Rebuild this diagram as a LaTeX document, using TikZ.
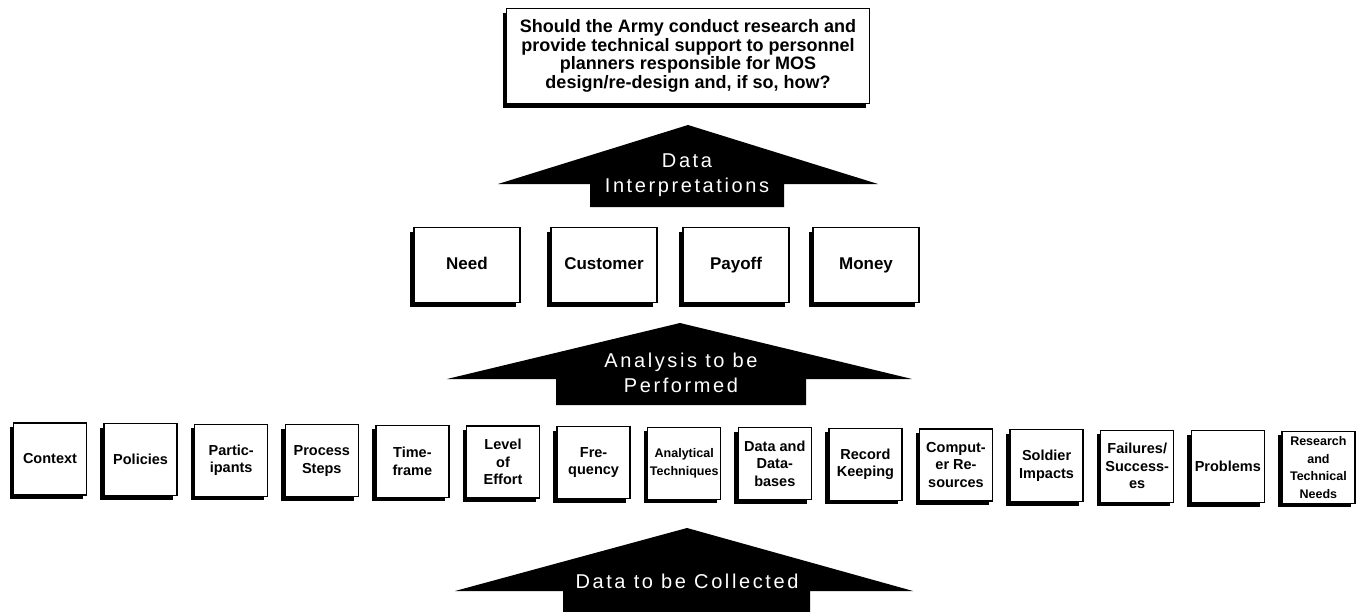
\documentclass[tikz,border=0pt]{standalone}
\usepackage{fontspec}
\setmainfont{Liberation Sans}
\usetikzlibrary{shadows}
\tikzstyle{box}=[draw,line width=1.3pt,fill=white,align=center,inner sep=1pt,
  drop shadow={shadow xshift=-4pt,shadow yshift=-4pt,opacity=1,fill=black}]
\tikzstyle{question box}=[box,minimum width=363pt,minimum height=95pt,
  font=\fontsize{18}{18.5}\selectfont\bfseries]
\tikzstyle{result box}=[box,minimum width=106pt,minimum height=75pt,
  text height=12.5pt,text depth=3.5pt,
  font=\fontsize{17}{19}\selectfont\bfseries]
\tikzstyle{item box}=[box,minimum width=73pt,minimum height=72pt,
  font=\fontsize{14.5}{17.5}\selectfont\bfseries]
\tikzstyle{big arrow}=[fill=black]
\tikzstyle{arrow text}=[text=white,align=center,
  font=\fontsize{20}{25}\selectfont\addfontfeature{LetterSpace=13}]
\newcommand{\smallitem}{\fontsize{12.5}{14.5}\selectfont}

\begin{document}
\begin{tikzpicture}[x=1pt,y=-1pt]
    \useasboundingbox (0,0) rectangle (1358,611);

    % The question on top
    \node[question box] (question) at (688,56)
        {Should the Army conduct research and\\provide technical support to personnel\\planners responsible for MOS\\design/re-design and, if so, how?};

    % Big arrows, drawn as filled outlines
    \fill[big arrow] (688,125) -- (878,184) -- (784,184) -- (784,207)
        -- (590,207) -- (590,184) -- (498,184) -- cycle;
    \node[arrow text] (interp) at (687,175) {Data\\Interpretations};

    \fill[big arrow] (680,323) -- (912,379) -- (806,379) -- (806,405)
        -- (556,405) -- (556,379) -- (447,379) -- cycle;
    \node[arrow text] (analysis) at (681,373) {Analysis to be\\Performed};

    \fill[big arrow] (687,528) -- (913,591) -- (810,591) -- (810,612)
        -- (563,612) -- (563,591) -- (455,591) -- cycle;
    \node[arrow text] (collected) at (687,581) {Data to be Collected};

    % Then the results of the analysis
    \foreach \pos/\name/\txt in {467/need/Need, 604/customer/Customer,
        736/payoff/Payoff, 866/money/Money}
        \node[result box] (\name) at (\pos,265) {\txt};

    % Now the row of data items
    \foreach \i/\name/\txt in {0/context/Context, 1/policies/Policies,
        2/participants/{Partic-\\ipants}, 3/steps/{Process\\Steps},
        4/timeframe/{Time-\\frame}, 5/effort/{Level\\of\\Effort},
        6/frequency/{Fre-\\quency},
        7/techniques/{\smallitem Analytical\\\smallitem Techniques},
        8/databases/{Data and\\Data-\\bases}, 9/records/{Record\\Keeping},
        10/computer/{Comput-\\er Re-\\sources}, 11/soldier/{Soldier\\Impacts},
        12/failures/{Failures/\\Success-\\es}, 13/problems/Problems,
        14/needs/{\smallitem Research\\\smallitem and\\\smallitem Technical\\\smallitem Needs}}
        \node[item box] (\name) at (50+90.6*\i,459+0.6*\i) {\txt};
\end{tikzpicture}
\end{document}
